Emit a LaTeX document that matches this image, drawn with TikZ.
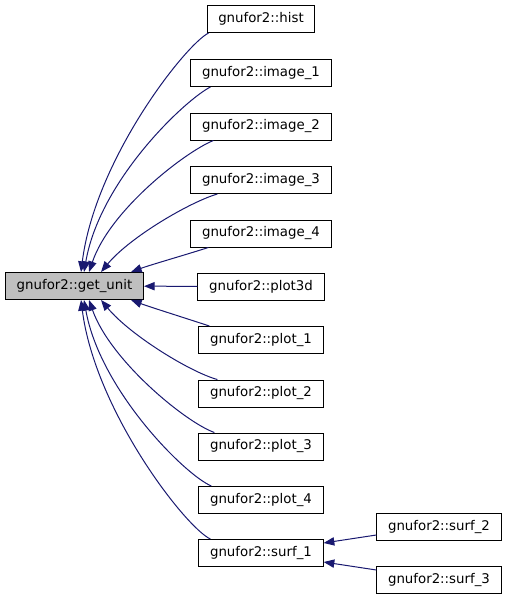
\documentclass[tikz,border=0pt]{standalone}
\usepackage{fontspec}
\setmainfont{DejaVu Sans}
\usetikzlibrary{arrows.meta,calc}
\definecolor{edgeblue}{HTML}{191970}
\definecolor{boxgray}{HTML}{BFBFBF}
\begin{document}
\begin{tikzpicture}[x=0.75pt,y=-0.75pt,
  fn/.style={draw=black,fill=white,line width=0.75pt,minimum height=20.25pt,inner xsep=8.4pt,inner ysep=0pt,font=\fontsize{10}{12}\selectfont,anchor=center},
  cur/.style={fn,fill=boxgray},
  ed/.style={draw=edgeblue,line width=0.75pt,-{Triangle[length=8pt,width=6.2pt]}}]
\useasboundingbox (0,0) rectangle (507,600);
\node[cur] (gu) at (74.5,286) {gnufor2::get\_unit};
\node[fn] (hist) at (261,19) {gnufor2::hist};
\node[fn] (im1) at (261,73) {gnufor2::image\_1};
\node[fn] (im2) at (261,126.5) {gnufor2::image\_2};
\node[fn] (im3) at (261,180) {gnufor2::image\_3};
\node[fn] (im4) at (261,233.5) {gnufor2::image\_4};
\node[fn] (p3d) at (261,286.5) {gnufor2::plot3d};
\node[fn] (p1) at (261,340) {gnufor2::plot\_1};
\node[fn] (p2) at (261,393.5) {gnufor2::plot\_2};
\node[fn] (p3) at (261,446.5) {gnufor2::plot\_3};
\node[fn] (p4) at (261,500) {gnufor2::plot\_4};
\node[fn] (s1) at (261,553) {gnufor2::surf\_1};
\node[fn] (s2) at (439,527) {gnufor2::surf\_2};
\node[fn] (s3) at (439,580) {gnufor2::surf\_3};
% upper edges
\draw[ed] ($(hist.south west)+(2,0)$) .. controls (185,45) and (95,160) .. ($(gu.north west)+(76,0)$);
\draw[ed] ($(im1.south west)+(20,0)$) .. controls (185,100) and (100,180) .. ($(gu.north west)+(79,0)$);
\draw[ed] ($(im2.south west)+(23,0)$) .. controls (185,152) and (110,210) .. ($(gu.north west)+(84,0)$);
\draw[ed] ($(im3.south west)+(27,0)$) .. controls (190,202) and (130,237) .. ($(gu.north west)+(96,0)$);
\draw[ed] ($(im4.south west)+(18,0)$) .. controls (185,255) and (150,265) .. ($(gu.north west)+(126,0)$);
\draw[ed] (p3d) -- (gu);
% lower edges
\draw[ed] ($(p1.north west)+(11,0)$) .. controls (185,318) and (150,307) .. ($(gu.south west)+(126,0)$);
\draw[ed] ($(p2.north west)+(19,0)$) .. controls (190,372) and (130,335) .. ($(gu.south west)+(96,0)$);
\draw[ed] ($(p3.north west)+(16,0)$) .. controls (185,422) and (110,360) .. ($(gu.south west)+(84,0)$);
\draw[ed] ($(p4.north west)+(13,0)$) .. controls (185,475) and (100,390) .. ($(gu.south west)+(79,0)$);
\draw[ed] ($(s1.north west)+(12,0)$) .. controls (185,527) and (95,410) .. ($(gu.south west)+(76,0)$);
% surf edges
\draw[ed] ($(s2.west)+(0,8)$) -- ($(s1.east)+(0,-10)$);
\draw[ed] ($(s3.west)+(0,-10)$) -- ($(s1.east)+(0,9)$);
\end{tikzpicture}
\end{document}
